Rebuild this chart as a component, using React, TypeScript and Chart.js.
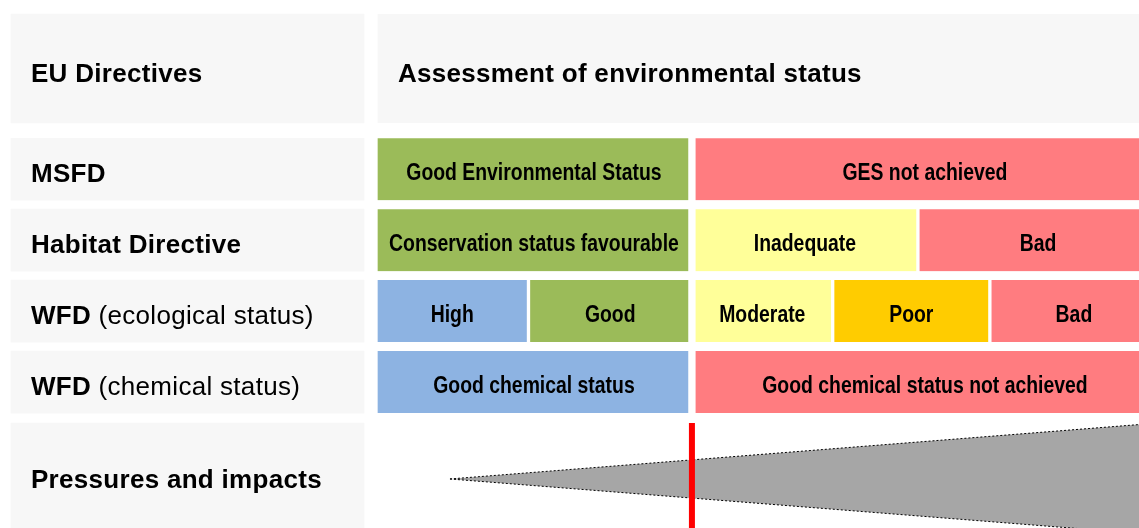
import { useEffect, useRef } from 'react';
import { Chart, registerables } from 'chart.js';

Chart.register(...registerables);

// ---------------- data ----------------
const HEADER_LEFT = 'EU Directives';
const HEADER_RIGHT = 'Assessment of environmental status';
const DIRECTIVE_NAMES = ['MSFD', 'Habitat Directive', 'WFD', 'WFD'];
const DIRECTIVE_NOTES = ['', '', ' (ecological status)', ' (chemical status)'];
const PRESSURES_LABEL = 'Pressures and impacts';

// status classes per directive and their boundaries on a 0-100 assessment scale
const MSFD_CLASSES = ['Good Environmental Status', 'GES not achieved'];
const MSFD_BOUNDS = [0, 40.4, 100];
const HD_CLASSES = ['Conservation status favourable', 'Inadequate', 'Bad'];
const HD_BOUNDS = [0, 40.4, 69.3, 100];
const WFD_ECO_CLASSES = ['High', 'Good', 'Moderate', 'Poor', 'Bad'];
const WFD_ECO_BOUNDS = [0, 19.5, 40.4, 58.4, 78.5, 100];
const WFD_CHEM_CLASSES = ['Good chemical status', 'Good chemical status not achieved'];
const WFD_CHEM_BOUNDS = [0, 40.4, 100];

const GES_THRESHOLD = 40.4;
// pressures wedge: grows from nothing to its maximum along the scale
const PRESSURE_X = [9.46, 100];
const PRESSURE_SPREAD = [0, 0.788];

// ---------------- layout / style ----------------
const W = 1139;
const H = 528;
const X_MIN = -48.08;
const X_MAX = 97.57;
const Y_MIN = -1.385;
const Y_MAX = 6.057;
const ROW_HEADER = -0.419;
const ROW_DIRECTIVES = [1, 2, 3, 4];
const ROW_PRESSURES = 5.366;
const LABEL_PANEL = [-46.68, -1.53];
const RED_LINE_Y = [4.577, 6.4];

const PANEL_GREY = '#f7f7f7';
const CLASS_COLORS: Record<string, string> = {
  'Good Environmental Status': '#9bbb59',
  'GES not achieved': '#ff7c80',
  'Conservation status favourable': '#9bbb59',
  Inadequate: '#ffff99',
  Bad: '#ff7c80',
  High: '#8db3e2',
  Good: '#9bbb59',
  Moderate: '#ffff99',
  Poor: '#ffcc00',
  'Good chemical status': '#8db3e2',
  'Good chemical status not achieved': '#ff7c80',
};
const FONT_FAMILY = '"Liberation Sans", Arial, Helvetica, sans-serif';
const LABEL_SIZE = 26;
const LABEL_LETTER_SPACING = '0.3px';
const CELL_SIZE = 23.5;
const CELL_SCALE = 0.825;

function cellBorder(ctx: any) {
  const raw = ctx.raw;
  if (!raw || !Array.isArray(raw.x)) return 0;
  const [a, b] = raw.x;
  if (a < 0) return 0;
  return {
    top: 0,
    bottom: 0,
    left: a === GES_THRESHOLD ? 4 : 2,
    right: b === GES_THRESHOLD ? 4 : 2,
  };
}

const labelPlugin = {
  id: 'cellLabels',
  afterDatasetsDraw(chart: any) {
    const ctx: any = chart.ctx;
    const area = chart.chartArea;
    chart.data.datasets.forEach((ds: any, di: number) => {
      if (!ds.labelKind) return;
      const meta = chart.getDatasetMeta(di);
      meta.data.forEach((el: any, i: number) => {
        const left = Math.min(el.x, el.base);
        const right = Math.max(el.x, el.base);
        const top = Math.max(el.y - el.height / 2, area.top);
        const bottom = Math.min(el.y + el.height / 2, area.bottom);
        const cy = (top + bottom) / 2;
        ctx.save();
        ctx.fillStyle = '#000000';
        ctx.textBaseline = 'alphabetic';
        if (ds.labelKind === 'cell') {
          ctx.font = `bold ${CELL_SIZE}px ${FONT_FAMILY}`;
          ctx.textAlign = 'center';
          ctx.translate((left + right) / 2, cy + CELL_SIZE * 0.46);
          ctx.scale(CELL_SCALE, 1);
          ctx.fillText(ds.texts[i], 0, 0);
        } else {
          if ('letterSpacing' in ctx) ctx.letterSpacing = LABEL_LETTER_SPACING;
          const bw = cellBorder({ raw: ds.data[i] });
          const inset = 20 + (bw && typeof bw === 'object' ? bw.left : 0);
          const x = left + inset;
          const y = cy + LABEL_SIZE * 0.5;
          ctx.textAlign = 'left';
          ctx.font = `bold ${LABEL_SIZE}px ${FONT_FAMILY}`;
          ctx.fillText(ds.texts[i], x, y);
          const note = ds.notes ? ds.notes[i] : '';
          if (note) {
            const w = ctx.measureText(ds.texts[i]).width;
            ctx.font = `normal ${LABEL_SIZE}px ${FONT_FAMILY}`;
            ctx.fillText(note, x + w, y);
          }
        }
        ctx.restore();
      });
    });
  },
};

function buildConfig(): any {
  const statusRows = [
    { classes: MSFD_CLASSES, bounds: MSFD_BOUNDS },
    { classes: HD_CLASSES, bounds: HD_BOUNDS },
    { classes: WFD_ECO_CLASSES, bounds: WFD_ECO_BOUNDS },
    { classes: WFD_CHEM_CLASSES, bounds: WFD_CHEM_BOUNDS },
  ];
  const cells: any[] = [];
  const cellTexts: string[] = [];
  statusRows.forEach((row, i) => {
    row.classes.forEach((c, j) => {
      cells.push({ x: [row.bounds[j], row.bounds[j + 1]], y: ROW_DIRECTIVES[i] });
      cellTexts.push(c);
    });
  });

  const barBase = {
    type: 'bar',
    indexAxis: 'y',
    grouped: false,
    borderSkipped: false,
    borderColor: '#ffffff',
    borderWidth: cellBorder,
    order: 5,
  };

  const datasets: any[] = [
    {
      ...barBase,
      label: 'header',
      data: [
        { x: LABEL_PANEL, y: ROW_HEADER },
        { x: [0, 100], y: ROW_HEADER },
      ],
      texts: [HEADER_LEFT, HEADER_RIGHT],
      labelKind: 'panel',
      backgroundColor: PANEL_GREY,
      barThickness: 109,
    },
    {
      ...barBase,
      label: 'directives',
      data: ROW_DIRECTIVES.map((y) => ({ x: LABEL_PANEL, y })),
      texts: DIRECTIVE_NAMES,
      notes: DIRECTIVE_NOTES,
      labelKind: 'panel',
      backgroundColor: PANEL_GREY,
      barThickness: 62,
    },
    {
      ...barBase,
      label: 'pressures',
      data: [{ x: LABEL_PANEL, y: ROW_PRESSURES }],
      texts: [PRESSURES_LABEL],
      labelKind: 'panel',
      backgroundColor: PANEL_GREY,
      barThickness: 112,
    },
    {
      ...barBase,
      label: 'status',
      data: cells,
      texts: cellTexts,
      labelKind: 'cell',
      backgroundColor: cellTexts.map((c) => CLASS_COLORS[c]),
      barThickness: 62,
    },
    {
      type: 'line',
      indexAxis: 'x',
      label: 'pressure upper',
      data: PRESSURE_X.map((x, i) => ({ x, y: ROW_PRESSURES - PRESSURE_SPREAD[i] })),
      borderColor: '#000000',
      borderWidth: 1,
      borderDash: [2, 2],
      pointRadius: 0,
      tension: 0,
      fill: false,
      order: 1,
    },
    {
      type: 'line',
      indexAxis: 'x',
      label: 'pressure lower',
      data: PRESSURE_X.map((x, i) => ({ x, y: ROW_PRESSURES + PRESSURE_SPREAD[i] })),
      borderColor: '#000000',
      borderWidth: 1,
      borderDash: [2, 2],
      pointRadius: 0,
      tension: 0,
      fill: '-1',
      backgroundColor: '#a6a6a6',
      order: 2,
    },
    {
      type: 'line',
      indexAxis: 'x',
      label: 'GES threshold',
      data: RED_LINE_Y.map((y) => ({ x: GES_THRESHOLD, y })),
      borderColor: '#ff0000',
      borderWidth: 6,
      pointRadius: 0,
      fill: false,
      order: 0,
    },
  ];

  return {
    type: 'bar',
    data: { datasets },
    options: {
      responsive: false,
      animation: false,
      devicePixelRatio: 1,
      events: [],
      layout: { padding: 0, autoPadding: false },
      plugins: {
        legend: { display: false },
        tooltip: { enabled: false },
        title: { display: false },
      },
      scales: {
        x: { type: 'linear', min: X_MIN, max: X_MAX, display: false, offset: false, grid: { offset: false } },
        y: { type: 'linear', min: Y_MIN, max: Y_MAX, reverse: true, display: false, offset: false, grid: { offset: false } },
      },
    },
    plugins: [labelPlugin],
  };
}

export default function App() {
  const ref = useRef<HTMLCanvasElement>(null);
  useEffect(() => {
    document.body.style.margin = '0';
    if (!ref.current) return;
    const chart = new Chart(ref.current, buildConfig());
    return () => chart.destroy();
  }, []);
  return (
    <div style={{ position: 'absolute', left: 0, top: 0, width: W, height: H, background: '#ffffff' }}>
      <canvas ref={ref} width={W} height={H} style={{ display: 'block', width: W, height: H }} />
    </div>
  );
}
